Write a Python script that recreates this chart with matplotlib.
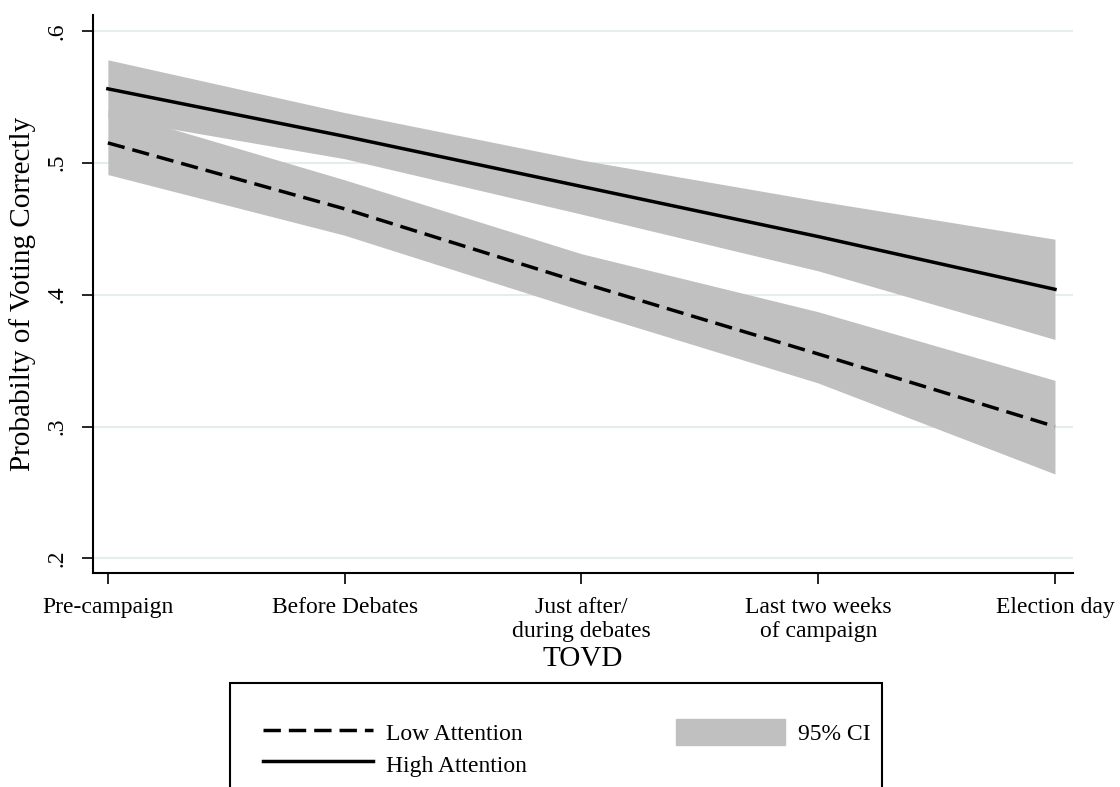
import numpy as np
import matplotlib
matplotlib.use("Agg")
import matplotlib.pyplot as plt
from matplotlib.lines import Line2D
from matplotlib.patches import Patch, Rectangle

plt.rcParams['font.family'] = ['Liberation Serif', 'DejaVu Serif']

# x categories (time of vote decision)
tovd_labels = ["Pre-campaign", "Before Debates", "Just after/\nduring debates",
               "Last two weeks\nof campaign", "Election day"]

# predicted probabilities
high_att = [0.556, 0.520, 0.482, 0.444, 0.404]
high_lo = [0.534, 0.503, 0.461, 0.418, 0.366]
high_hi = [0.578, 0.538, 0.502, 0.471, 0.442]

low_att = [0.515, 0.465, 0.409, 0.355, 0.300]
low_lo = [0.491, 0.445, 0.388, 0.333, 0.264]
low_hi = [0.540, 0.487, 0.431, 0.387, 0.335]

yticks = [0.2, 0.3, 0.4, 0.5, 0.6]
ytick_labels = [".2", ".3", ".4", ".5", ".6"]

band_col = '#c0c0c0'
grid_col = '#e6edef'

fig = plt.figure(figsize=(11.2, 7.87), dpi=100)
ax = fig.add_axes([0.083, 0.272, 0.875, 0.709])

x = np.arange(len(tovd_labels))

for yv in yticks:
    ax.axhline(yv, color=grid_col, lw=1.5, zorder=0)

ax.fill_between(x, high_lo, high_hi, color=band_col, lw=0, zorder=1)
ax.fill_between(x, low_lo, low_hi, color=band_col, lw=0, zorder=1)
ax.plot(x, low_att, color='black', lw=2.5, ls=(0, (5, 2.3)), zorder=3)
ax.plot(x, high_att, color='black', lw=2.5, zorder=3)

ax.set_xlim(-0.063, 4.076)
ax.set_ylim(0.189, 0.612)
ax.set_xticks(x)
ax.set_xticklabels(tovd_labels, fontsize=17, linespacing=1.2)
ax.set_yticks(yticks)
ax.set_yticklabels(ytick_labels, fontsize=17, rotation=90, va='center')
ax.tick_params(axis='x', length=8, width=1.2, pad=9)
ax.tick_params(axis='y', length=8, width=1.2, pad=10)

for s in ['top', 'right']:
    ax.spines[s].set_visible(False)
for s in ['left', 'bottom']:
    ax.spines[s].set_linewidth(1.5)

ax.set_ylabel("Probabilty of Voting Correctly", fontsize=21, labelpad=8)
ax.set_xlabel("TOVD", fontsize=21, labelpad=3)

# legend box, running off the bottom of the figure like the original
fig.patches.append(Rectangle((230 / 1120, -0.05), (882 - 230) / 1120, 0.05 + (787 - 683) / 787,
                             transform=fig.transFigure, fill=False, ec='black', lw=1.5))
handles = [Line2D([], [], color='black', lw=2.5, ls=(0, (5, 2.3))),
           Line2D([], [], color='black', lw=2.5),
           Patch(color=band_col)]
labels = ["Low Attention", "High Attention", "95% CI"]
fig.legend(handles, labels, loc='upper left', bbox_to_anchor=(242 / 1120, 1 - 698 / 787),
           ncol=2, frameon=False, fontsize=17, handlelength=4.65, handleheight=1.3,
           handletextpad=0.55, labelspacing=0.25, columnspacing=6.3)

fig.savefig("out.png", dpi=100)
